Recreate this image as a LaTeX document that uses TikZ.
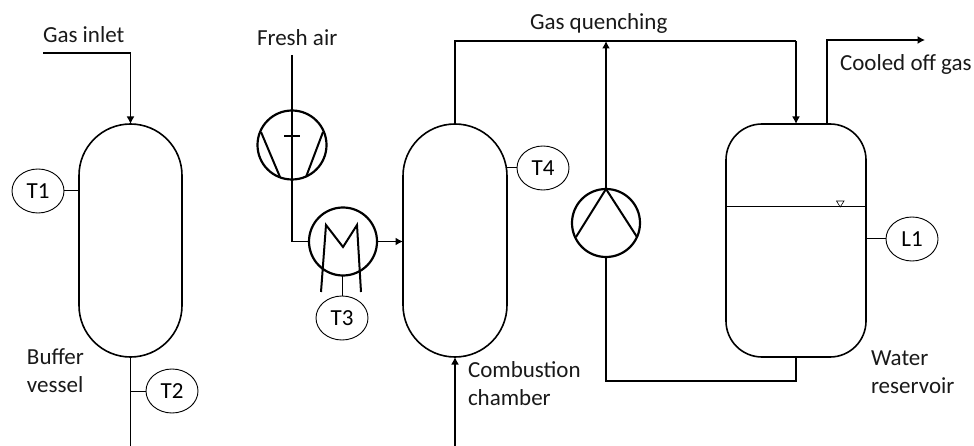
\documentclass[tikz,border=0pt]{standalone}
\usepackage{fontspec}
\setmainfont{Carlito}
\usetikzlibrary{arrows.meta,shapes.geometric}
\tikzset{
  x=1pt,y=-1pt,
  every node/.style={inner sep=0pt,outer sep=0pt},
  lbl/.style={font=\fontsize{23}{28}\selectfont,anchor=west,align=left,text=black!90},
  vessel/.style={draw,line width=1.6pt,rectangle},
  machine/.style={draw,circle,line width=2.2pt,minimum size=#1},
  inst/.style={draw,ellipse,line width=0.9pt,minimum width=52pt,minimum height=44pt,font=\fontsize{23}{24}\selectfont},
  pipe/.style={line width=1.5pt},
  flow/.style={pipe,-{Latex[length=7.5pt,width=8pt]}},
  stub/.style={line width=1pt},
  inner/.style={line width=2pt}
}
\begin{document}
\begin{tikzpicture}
\useasboundingbox (0,0) rectangle (974,446);
% vessels
\node[vessel,rounded corners=51.5pt,minimum width=103pt,minimum height=233pt] (buffer) at (130.5,240.5) {};
\node[vessel,rounded corners=52pt,minimum width=104pt,minimum height=233pt] (comb) at (455,240.5) {};
\node[vessel,rounded corners=36pt,minimum width=140pt,minimum height=233pt] (res) at (796,240.5) {};
% machines
\node[machine=69pt] (blower) at (292,145) {};
\node[machine=68pt] (cooler) at (343,241.5) {};
\node[machine=68pt] (pump) at (606,223) {};
% instruments
\node[inst] (T1) at (38,191) {T1};
\node[inst] (T2) at (172,391) {T2};
\node[inst] (T3) at (342,318) {T3};
\node[inst] (T4) at (543,168) {T4};
\node[inst] (L1) at (912,239) {L1};
% labels
\node[lbl] (lgas) at (43,35) {Gas inlet};
\node[lbl] (lair) at (257,38) {Fresh air};
\node[lbl] (lq) at (530,23) {Gas quenching};
\node[lbl] (lcool) at (840,64) {Cooled off gas};
\node[lbl] (lbuf) at (27,371) {Buffer\\vessel};
\node[lbl] (lcomb) at (468,384) {Combustion\\chamber};
\node[lbl] (lwat) at (871,372) {Water\\reservoir};
% free ends
\coordinate (ginS) at (43,53);
\coordinate (airS) at (292,55);
\coordinate (bufE) at (130.5,446);
\coordinate (combS) at (455,446);
\coordinate (cOut) at (925,40);
\coordinate (resIn) at (796,124);
\coordinate (resOut) at (827,124);
\coordinate (resBot) at (796,357);
% pipes
\draw[flow] (ginS) -| (buffer.north);
\draw[pipe] (buffer.south) -- (bufE);
\draw[pipe] (airS) -- (blower.north);
\draw[pipe] (blower.south) |- (cooler.west);
\draw[flow] (cooler.east) -- (comb.west |- cooler.east);
\draw[flow] (combS) -- (comb.south);
\draw[pipe] (comb.north) -- (455,41) -- (796,41);
\draw[flow] (796,41) -- (resIn);
\draw[flow] (pump.north) -- (606,41);
\draw[pipe] (pump.south) |- (resBot |- 0,381) -- (resBot);
\draw[flow,line width=1.3pt] (resOut) |- (cOut);
% instrument stubs
\draw[stub] (T1.east) -- (buffer.west |- T1.east);
\draw[stub] (T2.west) -- (buffer.south |- T2.west);
\draw[stub] (T3.north) -- (cooler.south -| T3.north);
\draw[stub] (T4.west) -- (comb.east |- T4.west);
\draw[stub] (L1.west) -- (res.east |- L1.west);
% machine inner symbols
\draw[inner] (blower.center) ++(-31,-13) -- ++(19,45);
\draw[inner] (blower.center) ++(31,-13) -- ++(-17,45);
\draw[inner] (284,136) -- (300,136);
\draw[pipe] (blower.north) -- (blower.south);
\draw[inner,line join=miter] (321,292) -- (326,225) -- (343,247) -- (357,225) -- (361,292);
\draw[inner,line join=round] (576,237) -- (pump.north) -- (637,237);
% liquid level
\draw[line width=1pt] (res.west |- 0,207) -- (res.east |- 0,207);
\draw[line width=0.6pt] (836.5,201) -- (844,201) -- (840.2,207) -- cycle;
\end{tikzpicture}
\end{document}
